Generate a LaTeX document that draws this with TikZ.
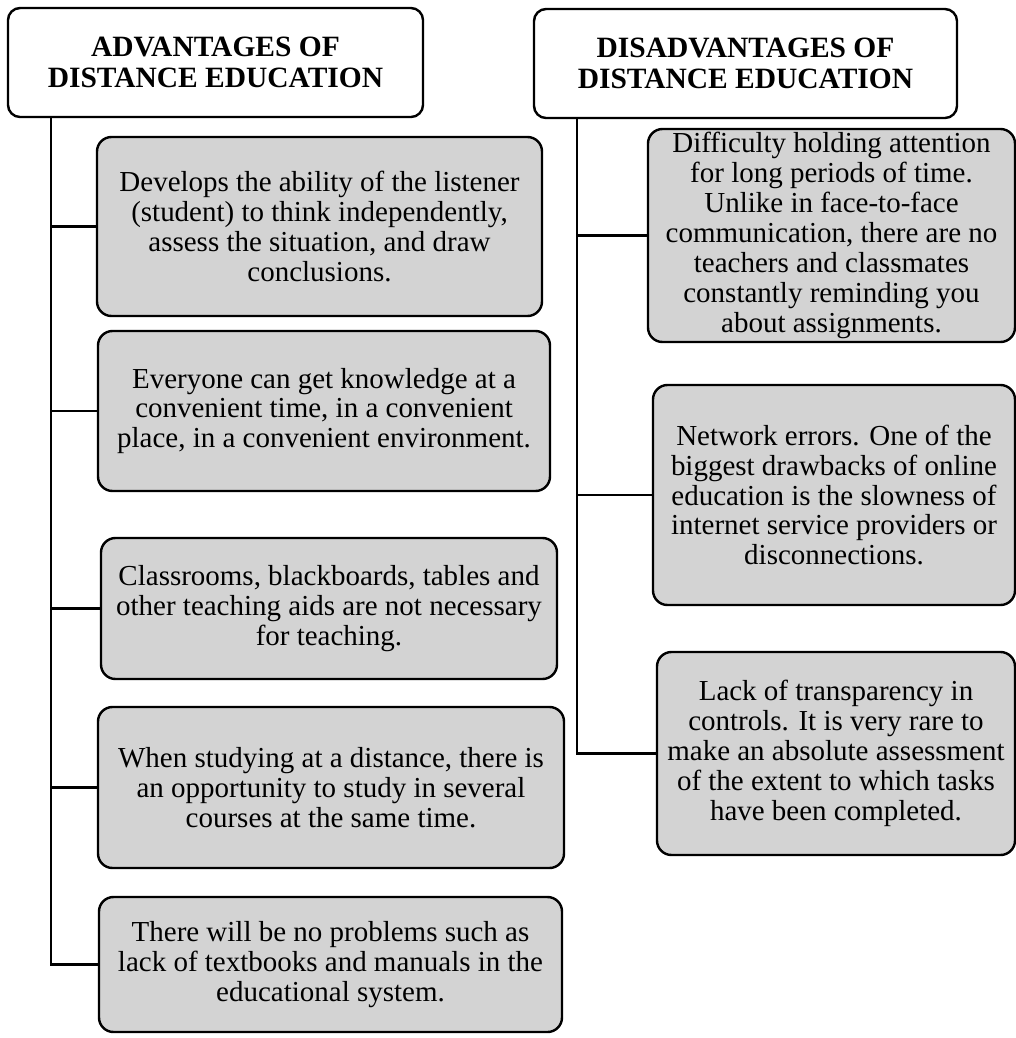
\documentclass[tikz,border=0pt]{standalone}
\usepackage{fontspec}
\setmainfont{Liberation Serif}
\usepackage{tikz}
\usepackage{xcolor}
\definecolor{boxgray}{RGB}{211,211,211}
\newcommand{\pxu}{0.414pt}

\begin{document}
\begin{tikzpicture}[x=0.414pt,y=-0.414pt,
    headbox/.style 2 args={draw,line width=1pt,rounded corners=5pt,fill=white,
      minimum width=#1*\pxu,minimum height=#2*\pxu,align=center,inner sep=0pt,
      font=\fontsize{12.2}{12.8}\selectfont\bfseries},
    itembox/.style 2 args={draw,line width=1pt,rounded corners=6pt,fill=boxgray,
      minimum width=#1*\pxu,minimum height=#2*\pxu,align=center,inner sep=0pt,
      font=\fontsize{12}{12.4}\selectfont},
    link/.style={line width=1.1pt}]
      \useasboundingbox (0,0) rectangle (1016,1038);
      % headings
        \node[headbox={415}{109}] (adv) at (215.5,62.5) {ADVANTAGES OF\\DISTANCE EDUCATION};
        \node[headbox={423}{109}] (dis) at (745.5,63.5) {DISADVANTAGES OF\\DISTANCE EDUCATION};
      % advantages
        \node[itembox={445}{179}] (a1) at (319.5,226.5)
          {Develops the ability of the listener\\(student) to think independently,\\assess the situation, and draw\\conclusions.};
        \node[itembox={452}{160}] (a2) at (324,411)
          {Everyone can get knowledge at a\\convenient time, in a convenient\\place, in a convenient environment.};
        \node[itembox={456}{141}] (a3) at (329,608.5)
          {Classrooms, blackboards, tables and\\other teaching aids are not necessary\\for teaching.};
        \node[itembox={466}{161}] (a4) at (331,787.5)
          {When studying at a distance, there is\\an opportunity to study in several\\courses at the same time.};
        \node[itembox={463}{135}] (a5) at (330.5,964.5)
          {There will be no problems such as\\lack of textbooks and manuals in the\\educational system.};
      % disadvantages
        \node[itembox={367}{213}] (d1) at (831.5,235.5)
          {Difficulty holding attention\\for long periods of time.\\Unlike in face-to-face\\communication, there are no\\teachers and classmates\\constantly reminding you\\about assignments.};
        \node[itembox={362}{220}] (d2) at (834,495)
          {Network errors. One of the\\biggest drawbacks of online\\education is the slowness of\\internet service providers or\\disconnections.};
        \node[itembox={358}{203}] (d3) at (836,753.5)
          {Lack of transparency in\\controls. It is very rare to\\make an absolute assessment\\of the extent to which tasks\\have been completed.};
      % trunks
        \coordinate (lt) at (51,0);
        \coordinate (rt) at (577,0);
        \draw[link] (adv.south -| lt) |- (a5.west);
        \foreach \n in {a1,a2,a3,a4}
          \draw[link] (lt |- \n.west) -- (\n.west);
        \draw[link] (dis.south -| rt) |- (d3.west);
        \foreach \n in {d1,d2}
          \draw[link] (rt |- \n.west) -- (\n.west);
      \end{tikzpicture}
\end{document}
